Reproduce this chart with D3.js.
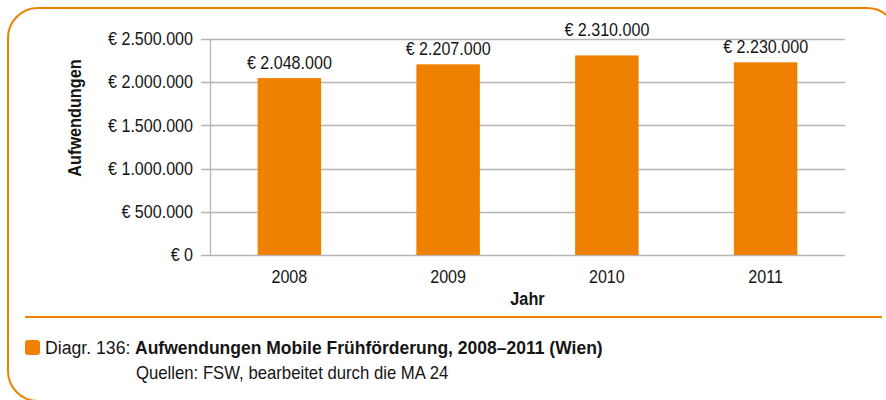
<!DOCTYPE html>
<html>
<head>
<meta charset="utf-8">
<script src="https://cdn.jsdelivr.net/npm/d3@7"></script>
<style>
  body { margin: 0; background: #fff; }
  svg { display: block; font-family: "Liberation Sans", Arial, sans-serif; }
</style>
</head>
<body>
<div id="chart"></div>
<script>
// Daten
const years = ["2008", "2009", "2010", "2011"];
const aufwendungen = [2048000, 2207000, 2310000, 2230000];
const yTicks = [0, 500000, 1000000, 1500000, 2000000, 2500000];

const orange = "#f08000";
const textColor = "#151515";
const width = 886, height = 400;
const margin = { left: 210, right: 41, top: 39, bottom: 145 };
const fs = 17.5;     // Schriftgröße Diagramm
const capFs = 18.8;  // Schriftgröße Beschriftung unten

const fmt = v => v === 0 ? "€ 0" : "€ " + d3.format(",")(v).replace(/,/g, ".");

// Text horizontal stauchen (schmale Helvetica nachgebildet)
function squeeze(sel, k) {
    sel.each(function () {
        const t = d3.select(this);
        const tx = +t.attr("x") || 0;
        t.attr("x", tx / k)
         .attr("transform", (t.attr("transform") || "") + ` scale(${k},1)`);
    });
    return sel;
}

const svg = d3.select("#chart").append("svg")
    .attr("width", width)
    .attr("height", height);

// Rahmen
svg.append("path")
    .attr("d", "M 897 38 A 30 30 0 0 0 867 8 L 38 8 A 30 30 0 0 0 8 38 L 8 371 A 30 30 0 0 0 38 401 L 897 401")
    .attr("fill", "none")
    .attr("stroke", orange)
    .attr("stroke-width", 2);

const x = d3.scaleBand()
    .domain(years)
    .range([margin.left, width - margin.right])
    .paddingInner(0.6)
    .paddingOuter(0.3);

const y = d3.scaleLinear()
    .domain([0, 2500000])
    .range([height - margin.bottom, margin.top]);

// Gitterlinien
svg.append("g")
    .selectAll("line")
    .data(yTicks)
    .enter().append("line")
    .attr("x1", margin.left - 9)
    .attr("x2", width - margin.right)
    .attr("y1", d => Math.round(y(d)) + 0.5)
    .attr("y2", d => Math.round(y(d)) + 0.5)
    .attr("stroke", "#b5b5b5")
    .attr("stroke-width", 1.3);

svg.append("line")
    .attr("x1", margin.left + 0.5).attr("x2", margin.left + 0.5)
    .attr("y1", y(0)).attr("y2", y(2500000))
    .attr("stroke", "#b5b5b5")
    .attr("stroke-width", 1.3);

// Y-Achse
const yAxis = svg.append("g")
    .attr("transform", `translate(${margin.left - 9},0)`)
    .call(d3.axisLeft(y).tickValues(yTicks).tickFormat(fmt).tickSize(0).tickPadding(8));
yAxis.select(".domain").remove();
squeeze(yAxis.selectAll("text").attr("font-size", fs).attr("font-family", null).attr("fill", textColor), 0.92);

// X-Achse
const xAxis = svg.append("g")
    .attr("transform", `translate(0,${y(0)})`)
    .call(d3.axisBottom(x).tickSize(0).tickPadding(16));
xAxis.select(".domain").remove();
squeeze(xAxis.selectAll("text").attr("font-size", fs).attr("font-family", null).attr("fill", textColor), 0.92);

// Balken
svg.append("g")
    .selectAll("rect")
    .data(years)
    .enter().append("rect")
    .attr("x", d => x(d))
    .attr("width", x.bandwidth())
    .attr("y", (d, i) => y(aufwendungen[i]))
    .attr("height", (d, i) => y(0) - y(aufwendungen[i]))
    .attr("fill", orange);

// Werte (über die oberste Gitterlinie, wenn sie sonst geschnitten wird)
const labelY = v => {
    const yy = y(v) - 9;
    return yy - fs * 0.72 < y(2500000) ? y(2500000) - 3 : yy;
};
squeeze(svg.append("g")
    .selectAll("text")
    .data(years)
    .enter().append("text")
    .attr("x", d => x(d) + x.bandwidth() / 2)
    .attr("y", (d, i) => labelY(aufwendungen[i]))
    .attr("text-anchor", "middle")
    .attr("font-size", fs)
    .attr("fill", textColor)
    .text((d, i) => fmt(aufwendungen[i])), 0.92);

// Achsentitel
squeeze(svg.append("text")
    .attr("transform", "translate(81,118) rotate(-90)")
    .attr("text-anchor", "middle")
    .attr("font-size", fs)
    .attr("font-weight", "bold")
    .attr("fill", textColor)
    .text("Aufwendungen"), 0.93);

squeeze(svg.append("text")
    .attr("x", (margin.left + width - margin.right) / 2)
    .attr("y", 305)
    .attr("text-anchor", "middle")
    .attr("font-size", fs)
    .attr("font-weight", "bold")
    .attr("fill", textColor)
    .text("Jahr"), 0.93);

// Trennlinie
svg.append("line")
    .attr("x1", 25).attr("x2", 882)
    .attr("y1", 317).attr("y2", 317)
    .attr("stroke", orange)
    .attr("stroke-width", 2);

// Legende / Quelle
svg.append("rect")
    .attr("x", 25).attr("y", 340)
    .attr("width", 15).attr("height", 15)
    .attr("rx", 3)
    .attr("fill", orange);

squeeze(svg.append("text")
    .attr("x", 45).attr("y", 354)
    .attr("font-size", capFs)
    .attr("fill", textColor)
    .text("Diagr. 136:"), 0.94);

squeeze(svg.append("text")
    .attr("x", 135).attr("y", 354)
    .attr("font-size", capFs)
    .attr("font-weight", "bold")
    .attr("fill", textColor)
    .text("Aufwendungen Mobile Frühförderung, 2008–2011 (Wien)"), 0.932);

squeeze(svg.append("text")
    .attr("x", 136).attr("y", 379)
    .attr("font-size", capFs)
    .attr("fill", textColor)
    .text("Quellen: FSW, bearbeitet durch die MA 24"), 0.89);
</script>
</body>
</html>
